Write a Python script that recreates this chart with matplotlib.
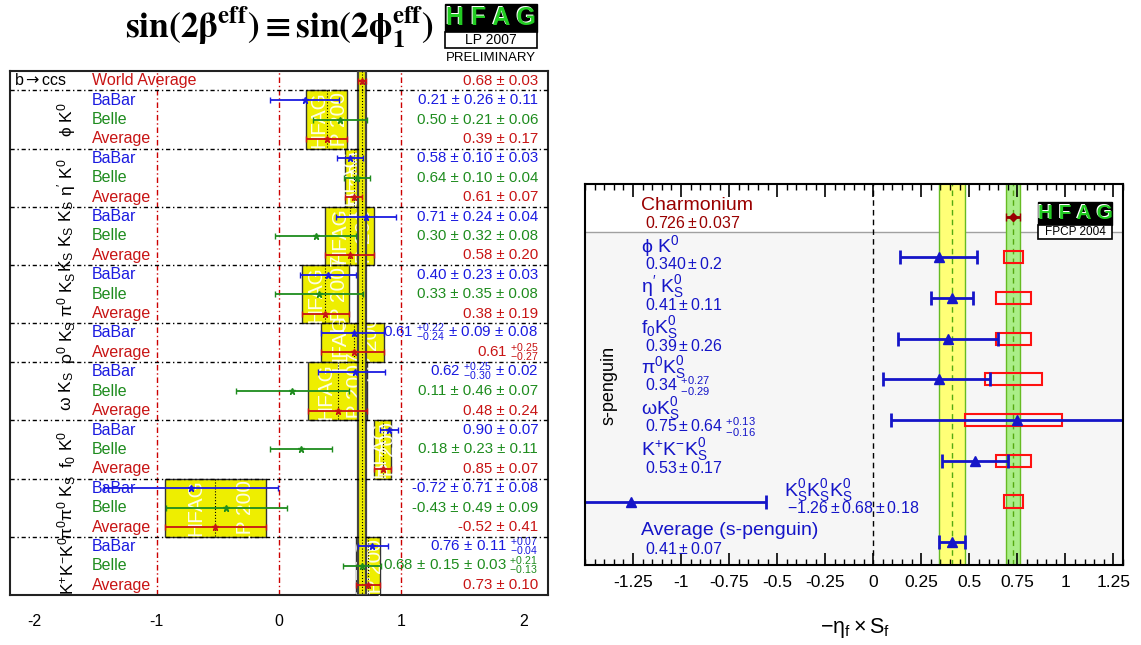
import numpy as np
import matplotlib
matplotlib.use('Agg')
import matplotlib.pyplot as plt
from matplotlib.patches import Rectangle
from matplotlib.ticker import MultipleLocator, FixedLocator, FuncFormatter

plt.rcParams['font.family'] = ['Liberation Sans', 'DejaVu Sans']
plt.rcParams['mathtext.fontset'] = 'custom'
plt.rcParams['mathtext.rm'] = 'Liberation Sans'
plt.rcParams['mathtext.it'] = 'Liberation Sans:italic'
plt.rcParams['mathtext.bf'] = 'Liberation Sans:bold'
plt.rcParams['mathtext.sf'] = 'Liberation Sans'
plt.rcParams['axes.unicode_minus'] = False

# ---------------- left panel data (HFAG LP 2007) ----------------
world_avg = 0.68
world_err = 0.03
world_txt = '0.68 ± 0.03'

modes_left = [r'$\mathrm{\phi\ K^0}$', r"$\mathrm{\eta'\ K^0}$", r'$\mathrm{K_S\ K_S\ K_S}$',
              r'$\mathrm{\pi^0\ K_S}$', r'$\mathrm{\rho^0\ K_S}$', r'$\mathrm{\omega\ K_S}$',
              r'$\mathrm{f_0\ K^0}$', r'$\mathrm{\pi^0\pi^0\ K_S}$', r'$\mathrm{K^{+}K^{-}K^0}$']

babar_val     = [0.21, 0.58, 0.71, 0.40, 0.61, 0.62, 0.90, -0.72, 0.76]
babar_stat_hi = [0.26, 0.10, 0.24, 0.23, 0.22, 0.25, 0.07, 0.71, 0.11]
babar_stat_lo = [0.26, 0.10, 0.24, 0.23, 0.24, 0.30, 0.07, 0.71, 0.11]
babar_syst_hi = [0.11, 0.03, 0.04, 0.03, 0.12, 0.02, 0.00, 0.08, 0.07]
babar_syst_lo = [0.11, 0.03, 0.04, 0.03, 0.12, 0.02, 0.00, 0.08, 0.04]
babar_txt = ['0.21 ± 0.26 ± 0.11', '0.58 ± 0.10 ± 0.03', '0.71 ± 0.24 ± 0.04',
             '0.40 ± 0.23 ± 0.03', r'$0.61\ {}^{+0.22}_{-0.24}\,\pm\,0.09\,\pm\,0.08$',
             r'$0.62\ {}^{+0.25}_{-0.30}\,\pm\,0.02$', '0.90 ± 0.07', '-0.72 ± 0.71 ± 0.08',
             r'$0.76\,\pm\,0.11\ {}^{+0.07}_{-0.04}$']

belle_val  = [0.50, 0.64, 0.30, 0.33, None, 0.11, 0.18, -0.43, 0.68]
belle_stat = [0.21, 0.10, 0.32, 0.35, None, 0.46, 0.23, 0.49, 0.15]
belle_syst = [0.06, 0.04, 0.08, 0.08, None, 0.07, 0.11, 0.09, 0.03]
belle_txt = ['0.50 ± 0.21 ± 0.06', '0.64 ± 0.10 ± 0.04', '0.30 ± 0.32 ± 0.08',
             '0.33 ± 0.35 ± 0.08', None, '0.11 ± 0.46 ± 0.07', '0.18 ± 0.23 ± 0.11',
             '-0.43 ± 0.49 ± 0.09', r'$0.68\,\pm\,0.15\,\pm\,0.03\ {}^{+0.21}_{-0.13}$']

avg_val    = [0.39, 0.61, 0.58, 0.38, 0.61, 0.48, 0.85, -0.52, 0.73]
avg_err_hi = [0.17, 0.07, 0.20, 0.19, 0.25, 0.24, 0.07, 0.41, 0.10]
avg_err_lo = [0.17, 0.07, 0.20, 0.19, 0.27, 0.24, 0.07, 0.41, 0.10]
avg_txt = ['0.39 ± 0.17', '0.61 ± 0.07', '0.58 ± 0.20', '0.38 ± 0.19',
           r'$0.61\ {}^{+0.25}_{-0.27}$', '0.48 ± 0.24', '0.85 ± 0.07', '-0.52 ± 0.41', '0.73 ± 0.10']

# ---------------- right panel data (HFAG FPCP 2004) ----------------
charm_val = 0.726
charm_err = 0.037
modes_right = [r'$\mathrm{\phi\ K^0}$', r"$\mathrm{\eta'\ K_S^0}$", r'$\mathrm{f_0K_S^0}$',
               r'$\mathrm{\pi^0K_S^0}$', r'$\mathrm{\omega K_S^0}$', r'$\mathrm{K^{+}K^{-}K_S^0}$',
               r'$\mathrm{K_S^0K_S^0K_S^0}$', 'Average (s-penguin)']
right_val     = [0.34, 0.41, 0.39, 0.34, 0.75, 0.53, -1.26, 0.41]
right_stat_hi = [0.20, 0.11, 0.26, 0.27, 0.64, 0.17, 0.68, 0.07]
right_stat_lo = [0.20, 0.11, 0.26, 0.29, 0.64, 0.17, 0.68, 0.07]
right_syst_hi = [0.00, 0.00, 0.00, 0.00, 0.13, 0.00, 0.18, 0.00]
right_syst_lo = [0.00, 0.00, 0.00, 0.00, 0.16, 0.00, 0.18, 0.00]
right_txt = [r'$0.340\pm0.2$', r'$0.41\pm0.11$', r'$0.39\pm0.26$', r'$0.34\ {}^{+0.27}_{-0.29}$',
             r'$0.75\pm0.64\ {}^{+0.13}_{-0.16}$', r'$0.53\pm0.17$', r'$-1.26\pm0.68\pm0.18$',
             r'$0.41\pm0.07$']
sm_lo = [0.68, 0.64, 0.64, 0.58, 0.48, 0.64, 0.68]
sm_hi = [0.78, 0.82, 0.82, 0.88, 0.98, 0.82, 0.78]
avg_band = 0.41
avg_band_err = 0.07
right_ticks = [-1.25, -1.0, -0.75, -0.5, -0.25, 0.0, 0.25, 0.5, 0.75, 1.0, 1.25]

# ---------------- figure ----------------
W, H = 1141, 645
fig = plt.figure(figsize=(W / 100, H / 100), dpi=100)


def fx(px):
    return px / W


def fy(py):
    return 1 - py / H


BLUE = '#1a1ae0'
GREEN = '#1e8c1e'
RED = '#c81414'
YEL = '#eeee00'

# ===== left panel =====
ax1 = fig.add_axes([fx(10), fy(595), (548 - 10) / W, (595 - 71) / H])
ax1.set_xlim(-2.2, 2.2)
ax1.set_ylim(27, 0)
for x in (-1, 0, 1):
    ax1.axvline(x, color='#cc0000', lw=1, ls=(0, (4, 2, 1, 2)), zorder=1)

row = 1
group_rows = []
for g in range(len(modes_left)):
    n = 3 if belle_val[g] is not None else 2
    group_rows.append((row, n))
    row += n

for g, (r0, n) in enumerate(group_rows):
    lo = avg_val[g] - avg_err_lo[g]
    hi = avg_val[g] + avg_err_hi[g]
    rect = Rectangle((lo, r0), hi - lo, n, facecolor=YEL, edgecolor='#333333', lw=1, zorder=2)
    ax1.add_patch(rect)
    for frac, s in ((0.3, 'HFAG'), (0.8, 'LP 2007')):
        t = ax1.text(lo + frac * (hi - lo), r0 + n / 2, s, rotation=90, color='white', alpha=0.9,
                     fontsize=15, ha='center', va='center', zorder=3)
        t.set_clip_path(rect)
    ax1.plot([avg_val[g]] * 2, [r0, r0 + n], ls=':', color='k', lw=0.8, zorder=3)

# world average band
ax1.add_patch(Rectangle((world_avg - world_err, 0), 2 * world_err, 27, facecolor=YEL,
                        edgecolor='#444444', lw=1.6, zorder=4))
ax1.plot([world_avg] * 2, [0, 27], ls=':', color='k', lw=0.8, zorder=4)

# separators
for r0, n in group_rows:
    ax1.axhline(r0, color='k', lw=1, ls=(0, (3, 2, 1, 2)), zorder=5)

lab_x = -1.53
val_x = 2.12
fs = 11.5
fv = 10.8
ax1.text(-2.16, 0.5, 'b', fontsize=fs, va='center', ha='left', color='k')
ax1.text(-2.10, 0.5, r'$\rightarrow$ccs', fontsize=fs, va='center', ha='left', color='k',
         math_fontfamily='dejavusans')
ax1.text(lab_x, 0.5, 'World Average', color=RED, fontsize=fs, va='center')
ax1.text(val_x, 0.5, world_txt, color=RED, fontsize=fv, va='center', ha='right')
ax1.errorbar([world_avg], [0.5], xerr=[[world_err], [world_err]], fmt='*', color=RED, ms=5,
             capsize=2, lw=1.3, zorder=6)

for g, (r0, n) in enumerate(group_rows):
    ax1.text(-1.74, r0 + n / 2, modes_left[g], rotation=90, fontsize=12.5, ha='center', va='center')
    yb = r0 + 0.5
    elo = np.hypot(babar_stat_lo[g], babar_syst_lo[g])
    ehi = np.hypot(babar_stat_hi[g], babar_syst_hi[g])
    ax1.errorbar([babar_val[g]], [yb], xerr=[[elo], [ehi]], fmt='*', color=BLUE, ms=5,
                 capsize=2, lw=1.3, zorder=6)
    ax1.text(lab_x, yb, 'BaBar', color=BLUE, fontsize=fs, va='center')
    ax1.text(val_x, yb, babar_txt[g], color=BLUE, fontsize=fv, va='center', ha='right')
    if belle_val[g] is not None:
        yl = r0 + 1.5
        e = np.hypot(belle_stat[g], belle_syst[g])
        ax1.errorbar([belle_val[g]], [yl], xerr=[[e], [e]], fmt='*', color=GREEN, ms=5,
                     capsize=2, lw=1.3, zorder=6)
        ax1.text(lab_x, yl, 'Belle', color=GREEN, fontsize=fs, va='center')
        ax1.text(val_x, yl, belle_txt[g], color=GREEN, fontsize=fv, va='center', ha='right')
    ya = r0 + n - 0.5
    ax1.errorbar([avg_val[g]], [ya], xerr=[[avg_err_lo[g]], [avg_err_hi[g]]], fmt='*', color=RED,
                 ms=5, capsize=2, lw=1.3, zorder=6)
    ax1.text(lab_x, ya, 'Average', color=RED, fontsize=fs, va='center')
    ax1.text(val_x, ya, avg_txt[g], color=RED, fontsize=fv, va='center', ha='right')

ax1.set_xticks([-2, -1, 0, 1, 2])
ax1.set_xticklabels(['-2', '-1', '0', '1', '2'])
ax1.tick_params(axis='x', length=0, pad=14, labelsize=11.5)
ax1.set_yticks([])
for s in ax1.spines.values():
    s.set_linewidth(1.5)
    s.set_color('#222222')

# ===== right panel =====
ax2 = fig.add_axes([fx(585), fy(565), (1123 - 585) / W, (565 - 184) / H])
ax2.set_xlim(-1.5, 1.3)
ax2.set_ylim(8.56, -0.80)
ax2.set_facecolor('#f6f6f6')
ax2.add_patch(Rectangle((-1.5, -0.8), 2.8, 0.8 + 0.386, facecolor='white', edgecolor='none', zorder=0))
ax2.axhline(0.386, color='#a0a0a0', lw=1, zorder=1)

ax2.axvspan(avg_band - avg_band_err, avg_band + avg_band_err, color='#ffff77', zorder=1, lw=0)
for x in (avg_band - avg_band_err, avg_band + avg_band_err):
    ax2.axvline(x, color='#66bb22', lw=1, zorder=2)
ax2.axvline(avg_band, color='#55aa11', lw=1, ls=(0, (4, 3)), zorder=2)
ax2.axvspan(charm_val - charm_err, charm_val + charm_err, color='#aaee88', zorder=1, lw=0)
for x in (charm_val - charm_err, charm_val + charm_err):
    ax2.axvline(x, color='#66bb22', lw=1, zorder=2)
ax2.axvline(charm_val, color='#55aa11', lw=1, ls=(0, (4, 3)), zorder=2)
ax2.axvline(0, color='k', lw=1, ls=(0, (4, 3)), zorder=2)

for k in range(len(sm_lo)):
    ax2.add_patch(Rectangle((sm_lo[k], k + 1 - 0.15), sm_hi[k] - sm_lo[k], 0.3, fill=False,
                            edgecolor='#ff1111', lw=1.5, zorder=3))

RB = '#1515c8'
DR = '#990000'
ax2.errorbar([charm_val], [0], xerr=[[charm_err], [charm_err]], fmt='D', color=DR, ms=4,
             capsize=3, lw=2, zorder=5)
ax2.text(-1.21, -0.28, 'Charmonium', color=DR, fontsize=14, va='center', ha='left')
ax2.text(-1.19, 0.17, r'$0.726\pm0.037$', color=DR, fontsize=11.5, va='center', ha='left')

for k in range(len(right_val)):
    y = k + 1
    elo = np.hypot(right_stat_lo[k], right_syst_lo[k])
    ehi = np.hypot(right_stat_hi[k], right_syst_hi[k])
    ax2.errorbar([right_val[k]], [y], xerr=[[elo], [ehi]], fmt='^', color=RB, ms=7,
                 capsize=5, lw=2, capthick=2, zorder=5, clip_on=True)
    nx, vx = (-0.466, -0.45) if right_val[k] < -1 else (-1.21, -1.19)
    ax2.text(nx, y - 0.28, modes_right[k], color=RB, fontsize=14, va='center', ha='left')
    ax2.text(vx, y + 0.17, right_txt[k], color=RB, fontsize=11.5, va='center', ha='left')

ax2.xaxis.set_major_locator(FixedLocator(right_ticks))
ax2.xaxis.set_minor_locator(MultipleLocator(0.05))
ax2.xaxis.set_major_formatter(FuncFormatter(lambda v, p: f'{v:g}'))
ax2.tick_params(axis='x', which='both', direction='in', top=True, bottom=True, labelsize=12.5, pad=7)
ax2.tick_params(axis='x', which='major', length=9, width=1.2)
ax2.tick_params(axis='x', which='minor', length=4.5, width=1)
ax2.set_yticks([])
for s in ax2.spines.values():
    s.set_linewidth(1.5)
    s.set_zorder(10)

fig.text(fx(609), fy(385), 's-penguin', rotation=90, fontsize=13, ha='center', va='center')
fig.text(fx(855), fy(628), r'$\mathrm{-\eta_f\times S_f}$', fontsize=15.5, ha='center', va='center')

# ===== title and logos =====
fig.text(fx(279), fy(27), r'$\mathbf{sin(2\beta^{eff}) \equiv sin(2\phi_1^{eff})}$',
         math_fontfamily='stix', fontsize=25.5, ha='center', va='center')


def logo(x0, x1, y0, y1, y2, sub, fs_big, fs_small):
    fig.add_artist(Rectangle((fx(x0), fy(y1)), (x1 - x0) / W, (y1 - y0) / H, transform=fig.transFigure,
                             facecolor='black', edgecolor='black', lw=1))
    fig.add_artist(Rectangle((fx(x0), fy(y2)), (x1 - x0) / W, (y2 - y1) / H, transform=fig.transFigure,
                             facecolor='white', edgecolor='black', lw=1.2))
    xc = (x0 + x1) / 2
    yc = (y0 + y1) / 2
    fig.text(fx(xc - 1), fy(yc - 1), 'H F A G', color='white', fontsize=fs_big, fontweight='bold',
             ha='center', va='center')
    fig.text(fx(xc), fy(yc), 'H F A G', color='#22cc22', fontsize=fs_big, fontweight='bold',
             ha='center', va='center')
    fig.text(fx(xc), fy((y1 + y2) / 2), sub, color='black', fontsize=fs_small, ha='center', va='center')


logo(445, 537, 4, 32, 48, 'LP 2007', 18, 10)
fig.text(fx(491), fy(58), 'PRELIMINARY', fontsize=9.5, ha='center', va='center')
logo(1038, 1112, 202, 225, 239, 'FPCP 2004', 15, 8.5)

fig.savefig('out.png', dpi=100)
